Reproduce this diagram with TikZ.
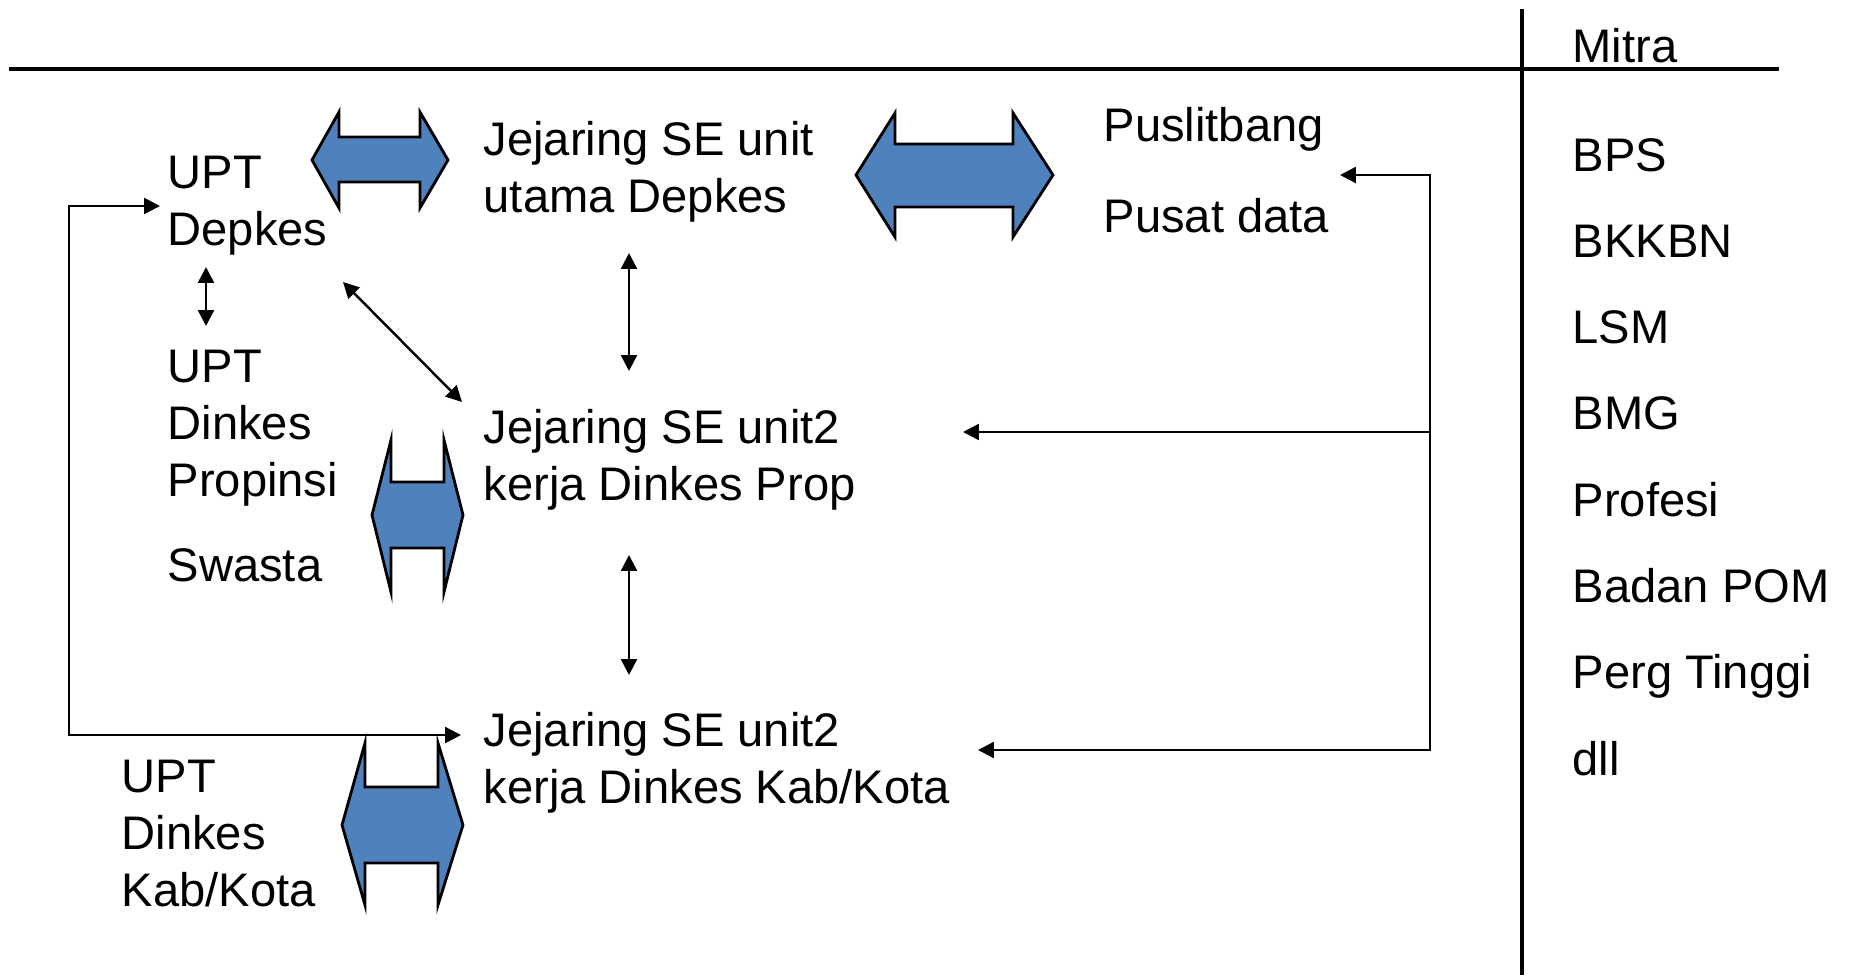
\documentclass[tikz,border=0pt]{standalone}
\usepackage{fontspec}
\setmainfont{Liberation Sans}
\usetikzlibrary{arrows.meta}
\definecolor{blokbiru}{RGB}{79,129,189}

\begin{document}
\begin{tikzpicture}[x=0.01cm,y=-0.01cm,
  lbl/.style={anchor=base west,inner sep=0pt,align=left,font=\fontsize{13.4}{16.2}\selectfont},
  thinarr/.style={line width=0.7pt,{Triangle[length=4.5pt,width=4.5pt]}-{Triangle[length=4.5pt,width=4.5pt]}},
  onearr/.style={line width=0.7pt,-{Triangle[length=4.5pt,width=4.5pt]}},
  blockarr/.style={fill=blokbiru,draw=black,line width=0.8pt,line join=miter}]
\useasboundingbox (0,0) rectangle (1854,975);
% garis kepala tabel
\draw[line width=1pt] (9,69) -- (1779,69);
\draw[line width=1pt] (1522,9) -- (1522,975);
\node[lbl] (mitra) at (1572,62) {Mitra};
\foreach \nama [count=\i from 0] in {BPS,BKKBN,LSM,BMG,Profesi,Badan POM,Perg Tinggi,dll} {
\node[lbl] (m\i) at (1572,171+86.3*\i) {\nama};
}
% simpul kiri (base = garis dasar baris terakhir)
\node[lbl] (upt1) at (167,245) {UPT\\Depkes};
\node[lbl] (upt2) at (167,496) {UPT\\Dinkes\\Propinsi};
\node[lbl] (swasta) at (167,581) {Swasta};
\node[lbl] (upt3) at (121,906) {UPT\\Dinkes\\Kab/Kota};
% simpul tengah
\node[lbl] (utama) at (483,212) {Jejaring SE unit\\utama Depkes};
\node[lbl] (prop) at (483,500) {Jejaring SE unit2\\kerja Dinkes Prop};
\node[lbl] (kab) at (483,803) {Jejaring SE unit2\\kerja Dinkes Kab/Kota};
\node[lbl] (puslit) at (1103,141) {Puslitbang};
\node[lbl] (pusdat) at (1103,232) {Pusat data};
% panah blok
\draw[blockarr] (312,160) -- (339,112) -- (339,137) -- (420,137) -- (420,112) -- (448,160)
  -- (420,208) -- (420,182) -- (339,182) -- (339,208) -- cycle;
\draw[blockarr] (856,175) -- (895,113) -- (895,144) -- (1013,144) -- (1013,113) -- (1053,175)
  -- (1013,237) -- (1013,207) -- (895,207) -- (895,237) -- cycle;
\draw[blockarr] (372,515) -- (391,440) -- (391,482) -- (444,482) -- (444,440) -- (463,515)
  -- (444,592) -- (444,548) -- (391,548) -- (391,592) -- cycle;
\draw[blockarr] (342,825) -- (365,743) -- (365,787) -- (438,787) -- (438,743) -- (463,825)
  -- (438,905) -- (438,863) -- (365,863) -- (365,905) -- cycle;
% titik ujung panah
\coordinate (a1) at (206,267);
\coordinate (a2) at (206,326);
\coordinate (b1) at (343,282);
\coordinate (b2) at (462,402);
\coordinate (c1) at (629,253);
\coordinate (c2) at (629,371);
\coordinate (d1) at (629,555);
\coordinate (d2) at (629,675);
\coordinate (kiri1) at (160,206);
\coordinate (kiri2) at (461,735);
\coordinate (kanan1) at (1340,175);
\coordinate (kanan2) at (963,432);
\coordinate (kanan3) at (978,750);
% panah tipis
\draw[thinarr] (a1) -- (a2);
\draw[thinarr] (b1) -- (b2);
\draw[thinarr] (c1) -- (c2);
\draw[thinarr] (d1) -- (d2);
\draw[thinarr] (kiri1) -- (69,206) -- (69,735) -- (kiri2);
\draw[thinarr] (kanan1) -- (1430,175) -- (1430,750) -- (kanan3);
\draw[onearr] (1430,432) -- (kanan2);
\end{tikzpicture}
\end{document}
